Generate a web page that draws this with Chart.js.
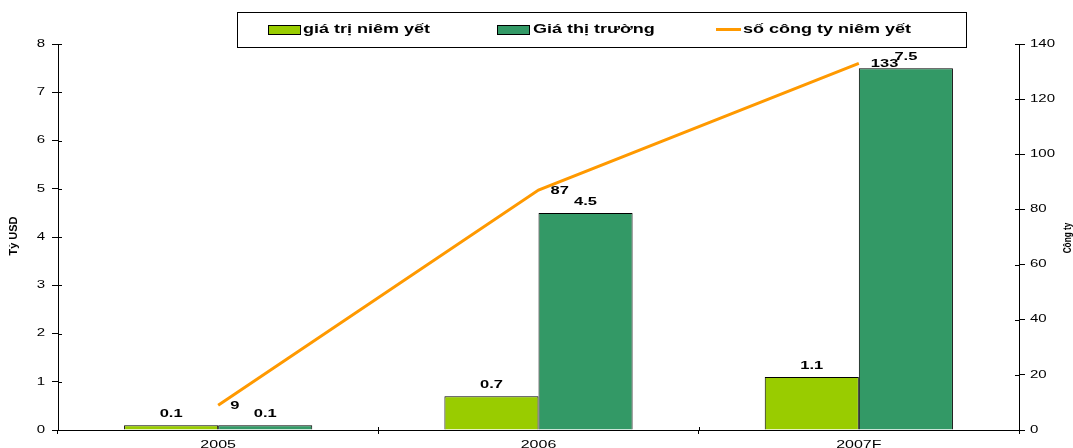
<!DOCTYPE html>
<html>
<head>
<meta charset="utf-8">
<script src="https://cdn.jsdelivr.net/npm/chart.js@4.4.0/dist/chart.umd.min.js"></script>
<style>
  html, body { margin: 0; padding: 0; background: #fff; }
  #wrap { width: 1073px; height: 448px; position: relative; }
</style>
</head>
<body>
<div id="wrap"><canvas id="c" width="1073" height="448"></canvas></div>
<script>
const categories = ['2005', '2006', '2007F'];
const listedValue = [0.1, 0.7, 1.1];
const marketValue = [0.1, 4.5, 7.5];
const companyCount = [9, 87, 133];
const leftTicks = [0, 1, 2, 3, 4, 5, 6, 7, 8];
const rightTicks = [0, 20, 40, 60, 80, 100, 120, 140];
const seriesNames = ['giá trị niêm yết', 'Giá thị trường', 'số công ty niêm yết'];
const leftTitle = 'Tỷ USD';
const rightTitle = 'Công ty';

const FONT = 'Arial, "Liberation Sans", sans-serif';
const SX = 1.5;

function wideText(ctx, text, x, y, sx, align, baseline) {
  ctx.save();
  ctx.translate(x, y);
  ctx.scale(sx, 1);
  ctx.textAlign = align;
  ctx.textBaseline = baseline || 'middle';
  ctx.fillText(text, 0, 0);
  ctx.restore();
}

const labelPlugin = {
  id: 'labels',
  afterDatasetsDraw(chart) {
    const ctx = chart.ctx;
    ctx.save();
    ctx.font = 'bold 11px ' + FONT;
    ctx.fillStyle = '#000';
    [0, 1].forEach(di => {
      const meta = chart.getDatasetMeta(di);
      meta.data.forEach((el, i) => {
        const v = chart.data.datasets[di].data[i];
        wideText(ctx, v.toFixed(1), el.x, el.y - 11, SX, 'center');
      });
    });
    const lm = chart.getDatasetMeta(2);
    lm.data.forEach((el, i) => {
      const v = chart.data.datasets[2].data[i];
      wideText(ctx, String(v), el.x + 12, el.y + 1, SX, 'left');
    });
    ctx.restore();
  }
};

const decoPlugin = {
  id: 'deco',
  afterDraw(chart) {
    const ctx = chart.ctx;
    const y = chart.scales.y, y1 = chart.scales.y1, x = chart.scales.x;
    ctx.save();
    ctx.strokeStyle = '#000';
    ctx.lineWidth = 1;
    leftTicks.forEach(t => {
      const py = Math.round(y.getPixelForValue(t)) + 0.5;
      ctx.beginPath(); ctx.moveTo(y.right, py); ctx.lineTo(y.right + 4, py); ctx.stroke();
    });
    rightTicks.forEach(t => {
      const py = Math.round(y1.getPixelForValue(t)) + 0.5;
      ctx.beginPath(); ctx.moveTo(y1.left - 4, py); ctx.lineTo(y1.left, py); ctx.stroke();
    });
    for (let i = 1; i < categories.length; i++) {
      const px = Math.round((x.getPixelForTick(i - 1) + x.getPixelForTick(i)) / 2) + 0.5;
      ctx.beginPath(); ctx.moveTo(px, x.top - 3); ctx.lineTo(px, x.top); ctx.stroke();
    }
    // tick labels (wide glyphs as in the original)
    ctx.fillStyle = '#000';
    ctx.font = '10px ' + FONT;
    leftTicks.forEach(t => wideText(ctx, String(t), y.right - 13, y.getPixelForValue(t), SX, 'right'));
    rightTicks.forEach(t => wideText(ctx, String(t), y1.left + 11, y1.getPixelForValue(t), SX, 'left'));
    categories.forEach((c, i) => wideText(ctx, c, x.getPixelForTick(i), 445, 1.6, 'center'));

    // axis titles
    ctx.font = 'bold 11px ' + FONT;
    ctx.save();
    ctx.translate(14, 236);
    ctx.rotate(-Math.PI / 2);
    ctx.textAlign = 'center'; ctx.textBaseline = 'middle';
    ctx.fillText(leftTitle, 0, 0);
    ctx.restore();
    ctx.save();
    ctx.translate(1068, 238);
    ctx.rotate(-Math.PI / 2);
    ctx.scale(0.75, 1);
    ctx.textAlign = 'center'; ctx.textBaseline = 'middle';
    ctx.fillText(rightTitle, 0, 0);
    ctx.restore();

    // legend box
    ctx.fillStyle = '#fff';
    ctx.fillRect(237.5, 12.5, 729, 35);
    ctx.strokeStyle = '#000';
    ctx.strokeRect(237.5, 12.5, 729, 35);
    const ds = chart.data.datasets;
    ctx.font = 'bold 12px ' + FONT;
    const cy = 30;
    ctx.fillStyle = ds[0].backgroundColor;
    ctx.fillRect(268.5, 25.5, 32, 9);
    ctx.strokeRect(268.5, 25.5, 32, 9);
    ctx.fillStyle = '#000';
    wideText(ctx, ds[0].label, 303, cy, SX, 'left');
    ctx.fillStyle = ds[1].backgroundColor;
    ctx.fillRect(497.5, 25.5, 32, 9);
    ctx.strokeRect(497.5, 25.5, 32, 9);
    ctx.fillStyle = '#000';
    wideText(ctx, ds[1].label, 533, cy, SX, 'left');
    ctx.strokeStyle = ds[2].borderColor;
    ctx.lineWidth = 3;
    ctx.beginPath(); ctx.moveTo(716, 29.5); ctx.lineTo(741, 29.5); ctx.stroke();
    ctx.fillStyle = '#000';
    wideText(ctx, ds[2].label, 743, cy, SX, 'left');
    ctx.restore();
  }
};

new Chart(document.getElementById('c'), {
  data: {
    labels: categories,
    datasets: [
      {
        type: 'bar', label: seriesNames[0], data: listedValue, yAxisID: 'y',
        backgroundColor: '#99CC00', borderColor: '#000', borderWidth: 1,
        categoryPercentage: 0.5875, barPercentage: 1, order: 2
      },
      {
        type: 'bar', label: seriesNames[1], data: marketValue, yAxisID: 'y',
        backgroundColor: '#339966', borderColor: '#000', borderWidth: 1,
        categoryPercentage: 0.5875, barPercentage: 1, order: 2
      },
      {
        type: 'line', label: seriesNames[2], data: companyCount, yAxisID: 'y1',
        borderColor: '#FF9900', backgroundColor: '#FF9900', borderWidth: 3,
        pointRadius: 0, tension: 0, order: 1
      }
    ]
  },
  options: {
    responsive: false,
    animation: false,
    devicePixelRatio: 1,
    layout: { padding: { top: 44, left: 0, right: 0, bottom: 0 } },
    plugins: { legend: { display: false }, tooltip: { enabled: false } },
    scales: {
      x: {
        offset: true,
        grid: { offset: true, drawOnChartArea: false, color: '#000', tickLength: 4 },
        border: { color: '#000', width: 1 },
        ticks: { display: false },
        afterFit(s) { s.height = 18; }
      },
      y: {
        position: 'left', min: 0, max: 8,
        afterBuildTicks(s) { s.ticks = leftTicks.map(v => ({ value: v })); },
        grid: { drawOnChartArea: false, color: '#000', tickLength: 6 },
        border: { color: '#000', width: 1 },
        ticks: { display: false },
        afterFit(s) { s.width = 58; }
      },
      y1: {
        position: 'right', min: 0, max: 140,
        afterBuildTicks(s) { s.ticks = rightTicks.map(v => ({ value: v })); },
        grid: { drawOnChartArea: false, color: '#000', tickLength: 6 },
        border: { color: '#000', width: 1 },
        ticks: { display: false },
        afterFit(s) { s.width = 54; }
      }
    }
  },
  plugins: [labelPlugin, decoPlugin]
});
</script>
</body>
</html>
